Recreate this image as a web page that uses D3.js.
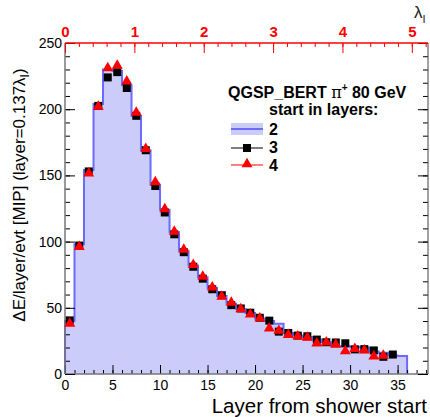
<!DOCTYPE html>
<html>
<head>
<meta charset="utf-8">
<script src="https://cdn.jsdelivr.net/npm/d3@7"></script>
<style>
  html, body { margin: 0; padding: 0; background: #fff; }
  svg { display: block; font-family: "Liberation Sans", Arial, sans-serif; }
</style>
</head>
<body>
<svg id="chart" width="430" height="417"></svg>
<script>
// Energy per layer vs. layer from shower start, for three start-layer selections
const layersHist = d3.range(36);          // histogram bins 0..35 (width 1)
const start2 = [40, 98, 154, 204, 230, 229, 218, 195, 169, 143,
                124, 107, 93, 82, 73, 65, 59, 53, 49, 46,
                42, 40, 38, 31, 29, 28, 26, 24, 21, 21,
                20.5, 20, 17, 16, 14, 13.6];
const start3 = [40.5, 97, 153, 202.5, 224, 228, 216, 195, 169, 142,
                122, 105.5, 92, 81, 72, 64, 59.5, 52, 49.5, 46.3,
                42.5, 40.3, 32, 31, 29, 28.5, 26, 24, 23.8, 23.2,
                18.6, 18.8, 17.8, 13, 14.7];
const start4 = [38, 96, 151.5, 202, 231, 233, 221, 197.5, 170, 145,
                124.5, 107.5, 94, 82.5, 73.5, 65.5, 58.5, 54, 49, 45,
                42, 34.5, 32.7, 29.5, 28.5, 27.5, 23.2, 24, 22.3, 17.3,
                19, 17.8, 13.4, 14];
const xTicks = d3.range(0, 36, 5);
const yTicks = d3.range(0, 251, 50);
const lambdaTicks = d3.range(0, 6);
const layerToLambda = 0.137;

const svg = d3.select("#chart");
const L = 65, R = 428, T = 43, B = 374;
const x = d3.scaleLinear().domain([0, 38.2]).range([L, R]);
const y = d3.scaleLinear().domain([0, 250]).range([B, T]);
const xl = d3.scaleLinear().domain([0, 38.2 * layerToLambda]).range([L, R]);
const FONT = "Liberation Sans, Arial, sans-serif";

// histogram: start in layer 2
const histPts = start2.map((v, i) => [layersHist[i], v]);
histPts.push([36, start2[start2.length - 1]]);
svg.append("path")
  .attr("d", d3.area().curve(d3.curveStepAfter)
    .x(d => x(d[0])).y0(y(0)).y1(d => y(d[1]))(histPts))
  .attr("fill", "#ccccfa");
svg.append("path")
  .attr("d", d3.line().curve(d3.curveStepAfter)
    .x(d => x(d[0])).y(d => y(d[1]))([[0, 0], ...histPts, [36, 0]]))
  .attr("fill", "none").attr("stroke", "#6b6bff").attr("stroke-width", 2);

// bottom axis
const gB = svg.append("g").attr("transform", `translate(0,${B})`);
gB.call(d3.axisBottom(x).tickValues(d3.range(0, 39, 1)).tickSize(-4).tickFormat(""));
gB.call(g => g.selectAll(".domain").remove());
gB.selectAll(".tick line").attr("stroke", "#000");
const gB2 = svg.append("g").attr("transform", `translate(0,${B})`);
gB2.call(d3.axisBottom(x).tickValues(xTicks).tickSize(-9).tickPadding(14).tickFormat(d3.format("d")));
gB2.call(g => g.selectAll(".domain").remove());
gB2.selectAll(".tick line").attr("stroke", "#000");
gB2.selectAll(".tick text").attr("font-size", 14).attr("fill", "#000")
  .attr("font-family", FONT).attr("dy", "0.15em");
svg.append("line").attr("x1", L).attr("x2", R).attr("y1", B).attr("y2", B)
  .attr("stroke", "#777").attr("stroke-width", 1.5);

// left axis
const gL = svg.append("g").attr("transform", `translate(${L},0)`);
gL.call(d3.axisLeft(y).tickValues(d3.range(0, 251, 10)).tickSize(-5).tickFormat(""));
gL.call(g => g.selectAll(".domain").remove());
const gL2 = svg.append("g").attr("transform", `translate(${L},0)`);
gL2.call(d3.axisLeft(y).tickValues(yTicks).tickSize(-10).tickPadding(3).tickFormat(d3.format("d")));
gL2.call(g => g.selectAll(".domain").remove());
gL2.selectAll(".tick text").attr("font-size", 14).attr("fill", "#000").attr("font-family", FONT);
svg.append("line").attr("x1", L).attr("x2", L).attr("y1", T).attr("y2", B)
  .attr("stroke", "#777").attr("stroke-width", 1.5);

// right axis (mirror ticks)
const gR = svg.append("g").attr("transform", `translate(${R},0)`);
gR.call(d3.axisRight(y).tickValues(d3.range(0, 251, 10)).tickSize(-5).tickFormat(""));
gR.call(g => g.selectAll(".domain").remove());
const gR2 = svg.append("g").attr("transform", `translate(${R},0)`);
gR2.call(d3.axisRight(y).tickValues(yTicks).tickSize(-10).tickFormat(""));
gR2.call(g => g.selectAll(".domain").remove());
svg.append("line").attr("x1", R).attr("x2", R).attr("y1", T).attr("y2", B)
  .attr("stroke", "#444").attr("stroke-width", 1);

// top axis in interaction lengths
const red = "#ff0000";
const gT = svg.append("g").attr("transform", `translate(0,${T})`);
gT.call(d3.axisTop(xl).tickValues(d3.range(0, 5.21, 0.2)).tickSize(-4).tickFormat(""));
gT.call(g => g.selectAll(".domain").remove());
gT.selectAll(".tick line").attr("stroke", red);
const gT2 = svg.append("g").attr("transform", `translate(0,${T})`);
gT2.call(d3.axisTop(xl).tickValues(lambdaTicks).tickSize(-10).tickPadding(6).tickFormat(d3.format("d")));
gT2.call(g => g.selectAll(".domain").remove());
gT2.selectAll(".tick line").attr("stroke", red);
gT2.selectAll(".tick text").attr("font-size", 15).attr("font-weight", "bold").attr("fill", red)
  .attr("font-family", FONT);
svg.append("line").attr("x1", L).attr("x2", R).attr("y1", T).attr("y2", T)
  .attr("stroke", red).attr("stroke-width", 1.5);

// lambda label
const lam = svg.append("text").attr("x", 414).attr("y", 18).attr("font-size", 17).attr("fill", "#222");
lam.append("tspan").text("λ");
lam.append("tspan").attr("font-size", 11).attr("dy", 5).text("I");

// markers: start in layer 3 (squares) and 4 (triangles)
const sq = d3.symbol().type(d3.symbolSquare).size(64);
const tri = d3.symbol().type(d3.symbolTriangle).size(52);
svg.append("g").selectAll("path").data(start3).join("path")
  .attr("d", sq)
  .attr("transform", (d, i) => `translate(${x(i + 0.5)},${y(d)})`)
  .attr("fill", "#000");
svg.append("g").selectAll("path").data(start4).join("path")
  .attr("d", tri)
  .attr("transform", (d, i) => `translate(${x(i + 0.5)},${y(d)})`)
  .attr("fill", red);

// legend
const leg = svg.append("g").attr("font-weight", "bold").attr("fill", "#000");
const t1 = leg.append("text").attr("x", 228).attr("y", 98).attr("font-size", 16);
t1.append("tspan").text("QGSP_BERT ");
t1.append("tspan").attr("font-weight", "normal").attr("font-family", "DejaVu Serif, serif").text("π");
t1.append("tspan").attr("font-size", 10).attr("dy", -7).text("+");
t1.append("tspan").attr("dy", 7).text(" 80 GeV");
leg.append("text").attr("x", 269).attr("y", 115).attr("font-size", 16).text("start in layers:");
leg.append("rect").attr("x", 231).attr("y", 123).attr("width", 32).attr("height", 12).attr("fill", "#ccccfa");
leg.append("line").attr("x1", 231).attr("x2", 263).attr("y1", 129).attr("y2", 129)
  .attr("stroke", "#6b6bff").attr("stroke-width", 2);
leg.append("text").attr("x", 269).attr("y", 135).attr("font-size", 16).text("2");
leg.append("line").attr("x1", 231).attr("x2", 263).attr("y1", 148).attr("y2", 148).attr("stroke", "#000");
leg.append("path").attr("d", sq).attr("transform", "translate(247,148)").attr("fill", "#000");
leg.append("text").attr("x", 269).attr("y", 153).attr("font-size", 16).text("3");
leg.append("line").attr("x1", 231).attr("x2", 263).attr("y1", 165).attr("y2", 165).attr("stroke", red);
leg.append("path").attr("d", tri).attr("transform", "translate(247,164)").attr("fill", red);
leg.append("text").attr("x", 269).attr("y", 171).attr("font-size", 16).text("4");

// axis titles
svg.append("text").attr("x", 427).attr("y", 413).attr("text-anchor", "end")
  .attr("font-size", 20.5).attr("fill", "#000").text("Layer from shower start");
const yt = svg.append("text").attr("transform", "translate(25,195) rotate(-90)")
  .attr("text-anchor", "middle").attr("font-size", 17).attr("fill", "#000");
yt.append("tspan").text("ΔE/layer/evt [MIP] (layer=0.137λ");
yt.append("tspan").attr("font-size", 12).attr("dy", 4).text("I");
yt.append("tspan").attr("dy", -4).text(")");
</script>
</body>
</html>
